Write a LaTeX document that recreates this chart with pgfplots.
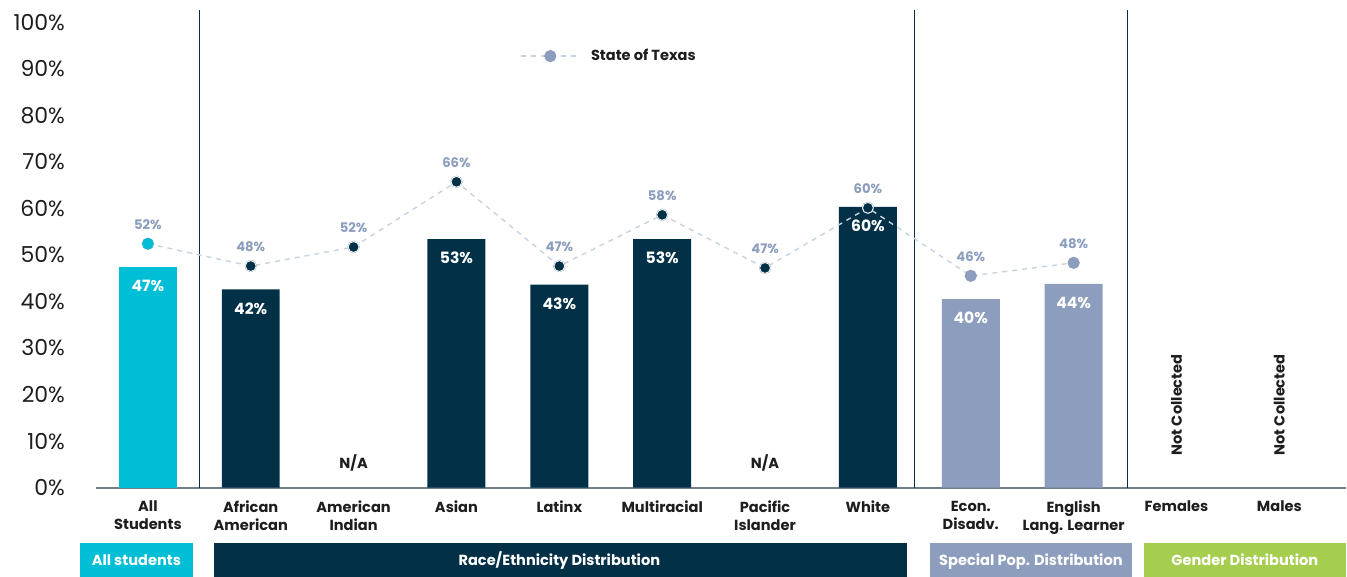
\documentclass[border=0pt]{standalone}
\usepackage{fontspec}
\setmainfont{Poppins}
\usepackage{pgfplots}
\pgfplotsset{compat=1.18}
\definecolor{cyanb}{HTML}{00BED6}
\definecolor{navy}{HTML}{023047}
\definecolor{greyb}{HTML}{8C9DBD}
\definecolor{greenb}{HTML}{A6CE4E}
\definecolor{dashc}{HTML}{C8D3E0}
\definecolor{axisc}{HTML}{6F7F8C}
\definecolor{txt}{HTML}{1E1E1E}
\pgfplotstableread{
x y lab
0 47.4 47\%
1 42.6 42\%
3 53.4 53\%
4 43.6 43\%
5 53.4 53\%
7 60.3 60\%
8 40.5 40\%
9 43.8 44\%
}\bars
\pgfplotstableread{
x y lab
0 52.4 52\%
1 47.6 48\%
2 51.7 52\%
3 65.7 66\%
4 47.6 47\%
5 58.6 58\%
6 47.2 47\%
7 60.1 60\%
8 45.5 46\%
9 48.3 48\%
}\texas
\newcommand\lblfont{\fontsize{7.3}{9}\selectfont\bfseries}
\tikzset{boxlbl/.style={text=white, font=\lblfont, text height=5.4pt, text depth=1.6pt, inner sep=0pt}}
\begin{document}
\begin{tikzpicture}
\begin{axis}[
  at={(0pt,0pt)}, anchor=south west,
  scale only axis, width=625.5pt, height=239pt,
  xmin=-0.505, xmax=11.65, ymin=0, ymax=102.6,
  clip=false,
  axis lines*=left,
  y axis line style={draw=none},
  x axis line style={axisc, line width=0.8pt},
  major tick length=0pt,
  ytick={0,10,...,100},
  yticklabels={0\%,10\%,20\%,30\%,40\%,50\%,60\%,70\%,80\%,90\%,100\%},
  yticklabel style={font=\fontsize{11}{12}\selectfont, text=txt, anchor=east, xshift=-12pt},
  xtick={0,...,11},
  xticklabels={All\\Students,African\\American,American\\Indian,Asian,Latinx,Multiracial,Pacific\\Islander,White,Econ.\\Disadv.,English\\Lang. Learner,Females,Males},
  xticklabel style={font=\lblfont, text=txt, align=center, anchor=north, yshift=-3pt},
  legend style={draw=none, fill=none, at={(axis cs:3.62,92.7)}, anchor=west,
    font=\lblfont, text=txt, inner sep=0pt},
  legend image code/.code={\draw[mark repeat=2,mark phase=2,#1] plot coordinates {(0pt,0pt) (14.5pt,0pt) (29pt,0pt)};},
]
% separators
\draw[navy, line width=0.6pt] (axis cs:0.505,0) -- (axis cs:0.505,102.6);
\draw[navy, line width=0.6pt] (axis cs:7.454,0) -- (axis cs:7.454,102.6);
\draw[navy, line width=0.6pt] (axis cs:9.524,0) -- (axis cs:9.524,102.6);
% bars
\addplot[ybar, bar width=29pt, fill=cyanb, draw=none, forget plot,
  nodes near coords, point meta=explicit symbolic,
  nodes near coords style={anchor=center, yshift=-9.5pt, text=white, font=\fontsize{7.8}{10}\selectfont\bfseries}]
  table[x=x,y=y,meta=lab, restrict expr to domain={\thisrow{x}}{0:0}] {\bars};
\addplot[ybar, bar width=29pt, fill=navy, draw=none, forget plot,
  nodes near coords, point meta=explicit symbolic,
  nodes near coords style={anchor=center, yshift=-9.5pt, text=white, font=\fontsize{7.8}{10}\selectfont\bfseries}]
  table[x=x,y=y,meta=lab, restrict expr to domain={\thisrow{x}}{1:7}] {\bars};
\addplot[ybar, bar width=29pt, fill=greyb, draw=none, forget plot,
  nodes near coords, point meta=explicit symbolic,
  nodes near coords style={anchor=center, yshift=-9.5pt, text=white, font=\fontsize{7.8}{10}\selectfont\bfseries}]
  table[x=x,y=y,meta=lab, restrict expr to domain={\thisrow{x}}{8:9}] {\bars};
% texas line
\addplot[dashc, line width=0.7pt, dash pattern=on 2.5pt off 2.5pt, mark=*, mark size=2.7pt,
  mark options={solid, fill=greyb, draw=greyb},
  nodes near coords, point meta=explicit symbolic,
  nodes near coords style={anchor=center, yshift=9.5pt, text=greyb, font=\fontsize{6.6}{8}\selectfont\bfseries}]
  table[x=x,y=y,meta=lab] {\texas};
\addlegendentry{\hspace{3.5pt}State of Texas}
\addplot[only marks, mark=*, mark size=2.7pt, mark options={fill=cyanb, draw=cyanb}, forget plot]
  table[x=x,y=y, restrict expr to domain={\thisrow{x}}{0:0}] {\texas};
\addplot[only marks, mark=*, mark size=2.7pt, mark options={fill=navy, draw=white, line width=0.4pt}, forget plot]
  table[x=x,y=y, restrict expr to domain={\thisrow{x}}{1:7}] {\texas};
% text
\node[font=\lblfont, text=txt] at (axis cs:2,5.4) {N/A};
\node[font=\lblfont, text=txt] at (axis cs:6,5.4) {N/A};
\node[rotate=90, font=\lblfont, text=txt] at (axis cs:10,17.8) {Not Collected};
\node[rotate=90, font=\lblfont, text=txt] at (axis cs:11,17.8) {Not Collected};
% bottom group boxes
\fill[cyanb] (axis cs:-0.661,-11.8) rectangle (axis cs:0.437,-19.1);
\node[boxlbl] at (axis cs:-0.112,-15.85) {All students};
\fill[navy] (axis cs:0.641,-11.8) rectangle (axis cs:7.376,-19.1);
\node[boxlbl] at (axis cs:4.0,-15.85) {Race/Ethnicity Distribution};
\fill[greyb] (axis cs:7.60,-11.8) rectangle (axis cs:9.57,-19.1);
\node[boxlbl] at (axis cs:8.585,-15.85) {Special Pop. Distribution};
\fill[greenb] (axis cs:9.68,-11.8) rectangle (axis cs:11.65,-19.1);
\node[boxlbl] at (axis cs:10.665,-15.85) {Gender Distribution};
\end{axis}
\path[use as bounding box] (-48pt,-44.5pt) rectangle (625.5pt,244pt);
\end{tikzpicture}
\end{document}
